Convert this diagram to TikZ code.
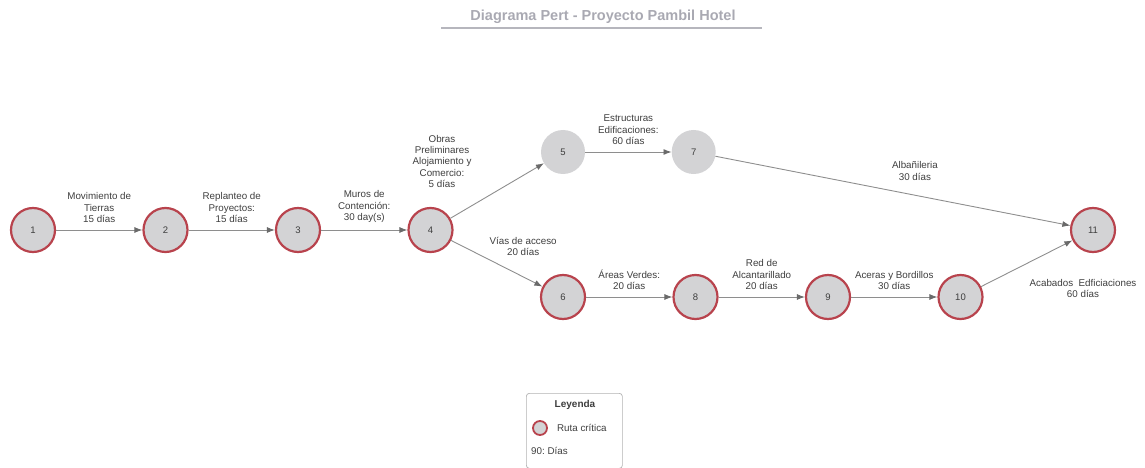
\documentclass[tikz,border=0pt]{standalone}
\usepackage{fontspec}
\setmainfont{Liberation Sans}
\usetikzlibrary{positioning,arrows.meta,calc}
\definecolor{critred}{HTML}{B8434D}
\definecolor{nodegray}{HTML}{D3D3D5}
\definecolor{linegray}{HTML}{8E8E8E}
\definecolor{tipgray}{HTML}{6A6A6A}
\definecolor{labgray}{HTML}{3E3E3E}
\definecolor{titlegray}{HTML}{A9A9B2}
\tikzset{
  pertnode/.style={circle, fill=nodegray, minimum size=44pt, inner sep=0pt,
    font=\fontsize{9.5}{11}\selectfont, text=labgray},
  critnode/.style={pertnode, draw=critred, line width=2.2pt},
  flow/.style={-{Latex[length=8pt, width=6pt, color=tipgray]}, line width=0.9pt, draw=linegray},
  flowlab/.style={font=\fontsize{9.8}{11.4}\selectfont, text=labgray, align=center, inner sep=1pt},
}
\begin{document}
\begin{tikzpicture}[x=1pt, y=-1pt, node distance=3pt and 86.3pt]
\useasboundingbox (0,0) rectangle (1145,468);
% --- title ---
\node[font=\bfseries\fontsize{14.5}{16}\selectfont, text=titlegray] (title) at (603,17) {Diagrama Pert - Proyecto Pambil Hotel};
\draw[titlegray!85, line width=1.6pt] (441,28) -- (762,28);
% --- events ---
\node[critnode] (n1) at (33,230) {1};
\node[critnode, right=of n1] (n2) {2};
\node[critnode, right=of n2] (n3) {3};
\node[critnode, right=of n3] (n4) {4};
\node[pertnode] (n5) at (563,152) {5};
\node[pertnode, right=of n5] (n7) {7};
\node[critnode] (n6) at (563,297) {6};
\node[critnode, right=of n6] (n8) {8};
\node[critnode, right=of n8] (n9) {9};
\node[critnode, right=of n9] (n10) {10};
\node[critnode] (n11) at (1093,230) {11};
% --- activities ---
\draw[flow] (n1) -- node[flowlab, above=6pt] {Movimiento de\\Tierras\\15 días} (n2);
\draw[flow] (n2) -- node[flowlab, above=6pt] {Replanteo de\\Proyectos:\\15 días} (n3);
\draw[flow] (n3) -- node[flowlab, above=6pt] {Muros de\\Contención:\\30 day(s)} (n4);
\draw[flow] (n4) -- (n5);
\node[flowlab, anchor=south] (lab45) at (442,189) {Obras\\Preliminares\\Alojamiento y\\Comercio:\\5 días};
\draw[flow] (n5) -- node[flowlab, above=6pt] {Estructuras\\Edificaciones:\\60 días} (n7);
\draw[flow] (n7) -- node[flowlab, above=9pt, xshift=22pt] {Albañileria\\30 días} (n11);
\draw[flow] (n4) -- node[flowlab, above right=4pt and -4pt, pos=0.45] {Vías de acceso\\20 días} (n6);
\draw[flow] (n6) -- node[flowlab, above=6pt] {Áreas Verdes:\\20 días} (n8);
\draw[flow] (n8) -- node[flowlab, above=6pt] {Red de\\Alcantarillado\\20 días} (n9);
\draw[flow] (n9) -- node[flowlab, above=6pt] {Aceras y Bordillos\\30 días} (n10);
\draw[flow] (n10) -- (n11);
\node[flowlab, below=25pt of n11, xshift=-10pt] (lab1011) {Acabados\ \ Edficiaciones\\60 días};
% --- legend ---
\node[draw=black!30, line width=0.7pt, rounded corners=3pt, minimum width=96pt, minimum height=75pt, anchor=north west] (legbox) at (526,393) {};
\node[font=\bfseries\fontsize{10}{11}\selectfont, text=labgray] (legtitle) at (575,405) {Leyenda};
\node[critnode, minimum size=14pt, line width=1.8pt] (legnode) at (540,428) {};
\node[flowlab, right=8pt of legnode] (legcrit) {Ruta crítica};
\node[flowlab, anchor=west] (legdays) at (530,451) {90:\ Días};
\end{tikzpicture}
\end{document}
